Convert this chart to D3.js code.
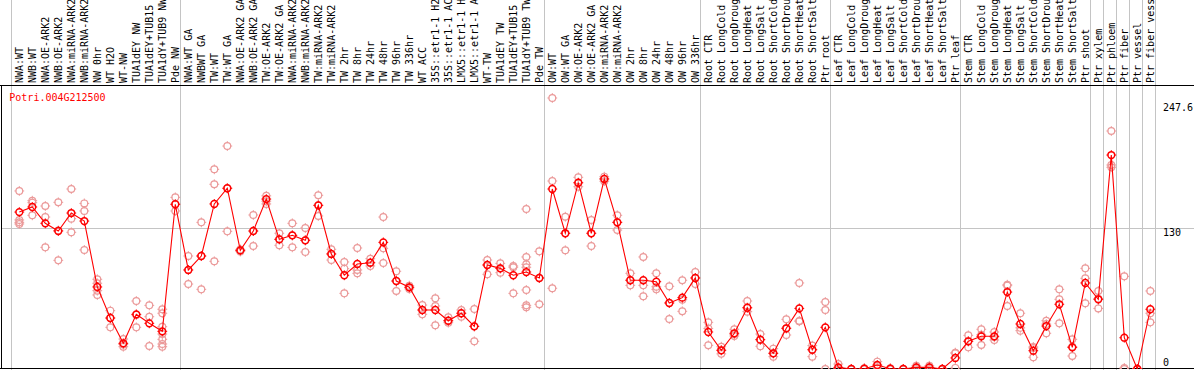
<!DOCTYPE html>
<html><head><meta charset="utf-8">
<script src="https://cdn.jsdelivr.net/npm/d3@7"></script>
<style>
body{margin:0;background:#fff}
svg{display:block}
text{font-family:"DejaVu Sans Mono",monospace;font-size:10px}
</style>
</head><body><svg id="c" width="1194" height="370"></svg>
<script>
const title = "Potri.004G212500";
const labels = [
 "NWA:WT","NWB:WT","NWA:OE-ARK2","NWB:OE-ARK2","NWA:miRNA-ARK2","NWB:miRNA-ARK2","NW 0hr","WT H2O","WT-NW",
 "TUA1dEY NW","TUA1dEY+TUB15","TUA1dY+TUB9 NW","Pde NW",
 "NWA:WT GA","NWBWT GA","TW:WT","TW:WT GA","NWA:OE-ARK2 GA","NWB:OE-ARK2 GA","TW:OE-ARK2","TW:OE-ARK2 GA",
 "NWA:miRNA-ARK2","NWB:miRNA-ARK2","TW:miRNA-ARK2","TW:miRNA-ARK2","TW 2hr","TW 8hr","TW 24hr","TW 48hr","TW 96hr","TW 336hr",
 "WT ACC","35S::etr1-1 H2O","35S::etr1-1 ACC","LMX5::etr1-1 H2O","LMX5::etr1-1 ACC","WT-TW","TUA1dEY TW","TUA1dEY+TUB15","TUA1dY+TUB9 TW","Pde TW",
 "OW:WT","OW:WT GA","OW:OE-ARK2","OW:OE-ARK2 GA","OW:miRNA-ARK2","OW:miRNA-ARK2","OW 2hr","OW 8hr","OW 24hr","OW 48hr","OW 96hr","OW 336hr",
 "Root CTR","Root LongCold","Root LongDrought","Root LongHeat","Root LongSalt","Root ShortCold","Root ShortDrought","Root ShortHeat","Root ShortSalt","Ptr root",
 "Leaf CTR","Leaf LongCold","Leaf LongDrought","Leaf LongHeat","Leaf LongSalt","Leaf ShortCold","Leaf ShortDrought","Leaf ShortHeat","Leaf ShortSalt","Ptr leaf",
 "Stem CTR","Stem LongCold","Stem LongDrought","Stem LongHeat","Stem LongSalt","Stem ShortCold","Stem ShortDrought","Stem ShortHeat","Stem ShortSalt",
 "Ptr shoot","Ptr xylem","Ptr phloem","Ptr fiber","Ptr vessel","Ptr fiber vessel"
];
const means = [
 145,149.7,134.6,127.5,144.1,136.7,75.8,47.1,23.7,50.5,42.2,34.8,152.2,
 91.5,104.4,152.5,167,109.6,127.5,157,119.8,123.5,118.9,151.2,106.3,86.6,97,98.2,117,81.3,75.5,
 54.5,54.5,44.6,51.5,39.4,96.1,93,86.6,89.6,84.1,
 166.3,125.4,172.1,125.4,175.6,135.5,82,82,80.7,61,65.9,84.1,
 34.2,17.3,33,56.6,27.1,14.5,37.6,56,17.8,38.5,
 1.5,0,0.3,3.7,0.3,0,1.5,1.5,0,10.2,
 25.6,30.2,30.2,71.1,41.6,16.9,39.7,59.8,20,
 79.5,64.4,197.7,28.9,0,55.2
];
const replicates = [
 [164.5,137.7,135.5,134],[155.5,153.7,142],[150.6,140.4,112.4],[154,128,100.4],[166.3,138.9,126.3],[153,146,110],
 [82.9,79.2,72.4,68.4],[53.9,47.1,38.5],[27.7,22.7,20.6],[62.8,50,38.5],[58.8,48.3,21.3],
 [55.2,51.5,39.1,32.3,27.4,23.1,20.6],[158.6,152.2,146],
 [104.4,91.5,78.5],[135.5,104.4,73.6],[184.5,170.7,99.5],[206,167,127.2],[110.5,109.6,108.5],[142.3,127.5,113.6],
 [160,155,152.5],[125.4,119.8,114.3],[134.6,123.5,112.4],[130.3,118.9,108.1],[160.5,151.2,141.4],[110.6,106.3,100.7],
 [98.9,92.7,69.9],[111.8,91.5,88.4],[101.9,98.2,95.2],[140.4,111.5,97.9],[90.3,81.3,72.1],[77,75.5,74],
 [59.1,54.5,50.5],[65.3,58.2,40.4],[47.8,44.6,42.8],[54.5,51.5,48.3],[55.4,39.4,25.6],[100.7,96.1,87.5],[97.6,93,89],
 [95.2,94,69.9],[147.8,103.5,96.7,94,73,58.8,57],[108.7,84.1,59.8],
 [250.4,173.7,74.6],[140.7,125.4,109.7],[177.1,172.1,168.4],[137.7,125.4,113.6],[177.7,175.6,173.5],[142,135.5,128.4],
 [88.4,82,77.3],[103.5,77.3,67.2],[88.4,76,73.6],[76.4,61,46.2],[82,64,53.3],[89.6,84.1,78.5],
 [43.1,37.5,21.9],[20.6,17.3,14],[36.7,32,30.5],[62.8,56.6,53],[32.3,27.1,21],[18.8,14.5,11.4],[45.9,37.6,31.4],
 [79.5,44.1,44.4],[21.6,17.8,11.4],[61.9,54.5,0],
 [4.6,0,0],[0,0,0],[0.8,0,0],[6.8,3,1.3],[0.8,0,0],[0,0,0],[3,1.5,0],[3,1.5,0],[0,0,0],[15.1,14.5,1],
 [31.1,25.6,20],[36.7,31.7,22.2],[34.2,29.6,26.8],[77.9,77,58.2],[51.5,38,35.4],[19.4,20.4,10.8],[44.6,41.5,33],
 [73.6,64.4,42.2],[27.4,20.6,12],
 [93,83.8,60.7],[72.1,65,56],[219.9,188.5,186.4],[85.6,1,0],[0,0,0],[72.1,51.5,43.1]
];
const yTicks = [0,130,247.6];
const yGrid = [130];
const groupStarts = [0,13,41,53,63,73,83,84,85,86,87,88];

const W = 1194, H = 370;
const plotTop = 85, plotBottom = 369;
const svg = d3.select("#c");

const x = d3.scaleBand().domain(d3.range(labels.length)).range([12.8, 12.8 + 13 * labels.length]);
const cx = i => x(i) + x.bandwidth() / 2;
const y = d3.scaleLinear().domain([0, 130]).range([plotBottom, 228.3]);
const sepX = k => Math.round(x.range()[0] + k * x.step() - 1.8) + 0.5;

svg.append("clipPath").attr("id","pc").append("rect")
  .attr("x",0).attr("y",plotTop).attr("width",W).attr("height",plotBottom-plotTop);

// gridline
svg.selectAll(".grid").data(yGrid).join("line")
  .attr("x1",2).attr("x2",W).attr("y1",d=>Math.round(y(d))+0.5).attr("y2",d=>Math.round(y(d))+0.5)
  .attr("stroke","#c4c4c4").attr("stroke-width",1);

// group separators
svg.selectAll(".sep").data(groupStarts).join("line")
  .attr("x1",sepX).attr("x2",sepX).attr("y1",0).attr("y2",H)
  .attr("stroke","#c4c4c4").attr("stroke-width",1);

// frame
svg.append("line").attr("x1",0).attr("x2",W).attr("y1",plotTop+0.5).attr("y2",plotTop+0.5).attr("stroke","#000");
svg.append("line").attr("x1",0).attr("x2",W).attr("y1",plotBottom-0.5).attr("y2",plotBottom-0.5).attr("stroke","#000");
svg.append("line").attr("x1",1.5).attr("x2",1.5).attr("y1",plotTop).attr("y2",plotBottom).attr("stroke","#000");

// column labels
svg.append("g").selectAll("text").data(labels).join("text")
  .attr("transform",(d,i)=>`translate(${cx(i)+4},83) rotate(-90)`)
  .attr("fill","#000").text(d=>d);

// title
svg.append("text").attr("x",9.3).attr("y",101).attr("fill","#ff0000").text(title);

// y tick labels
svg.append("g").selectAll("text").data(yTicks).join("text")
  .attr("x",1163)
  .attr("y",d => d === 0 ? y(d) - 3 : (d === 130 ? y(d) + 7.4 : y(d) + 9.7))
  .attr("fill","#000").text(d=>d);

const plot = svg.append("g").attr("clip-path","url(#pc)");

function marker(g, color, w){
  const r = 3.4;
  g.append("circle").attr("r",r).attr("fill","none").attr("stroke",color).attr("stroke-width",w);
  g.append("path").attr("d",`M0,${-r-1.5}V${-r+0.5}M0,${r-0.5}V${r+1.5}M${-r-1.5},0H${-r+0.5}M${r-0.5},0H${r+1.5}`)
    .attr("stroke",color).attr("stroke-width",1);
}

// replicates
const repData = [];
replicates.forEach((arr,i)=>arr.forEach(v=>repData.push({i,v})));
plot.selectAll(".rep").data(repData).join("g")
  .attr("transform",d=>`translate(${cx(d.i)},${y(d.v)})`)
  .each(function(){ marker(d3.select(this), "#eb9a9a", 1.2); });

// mean line
plot.append("path").datum(means)
  .attr("d", d3.line().x((d,i)=>cx(i)).y(d=>y(d)))
  .attr("fill","none").attr("stroke","#ff0000").attr("stroke-width",1.1);

// mean markers
plot.selectAll(".mean").data(means).join("g")
  .attr("transform",(d,i)=>`translate(${cx(i)},${y(d)})`)
  .each(function(){ marker(d3.select(this), "#ff0000", 1.5); });
</script>
</body></html>
